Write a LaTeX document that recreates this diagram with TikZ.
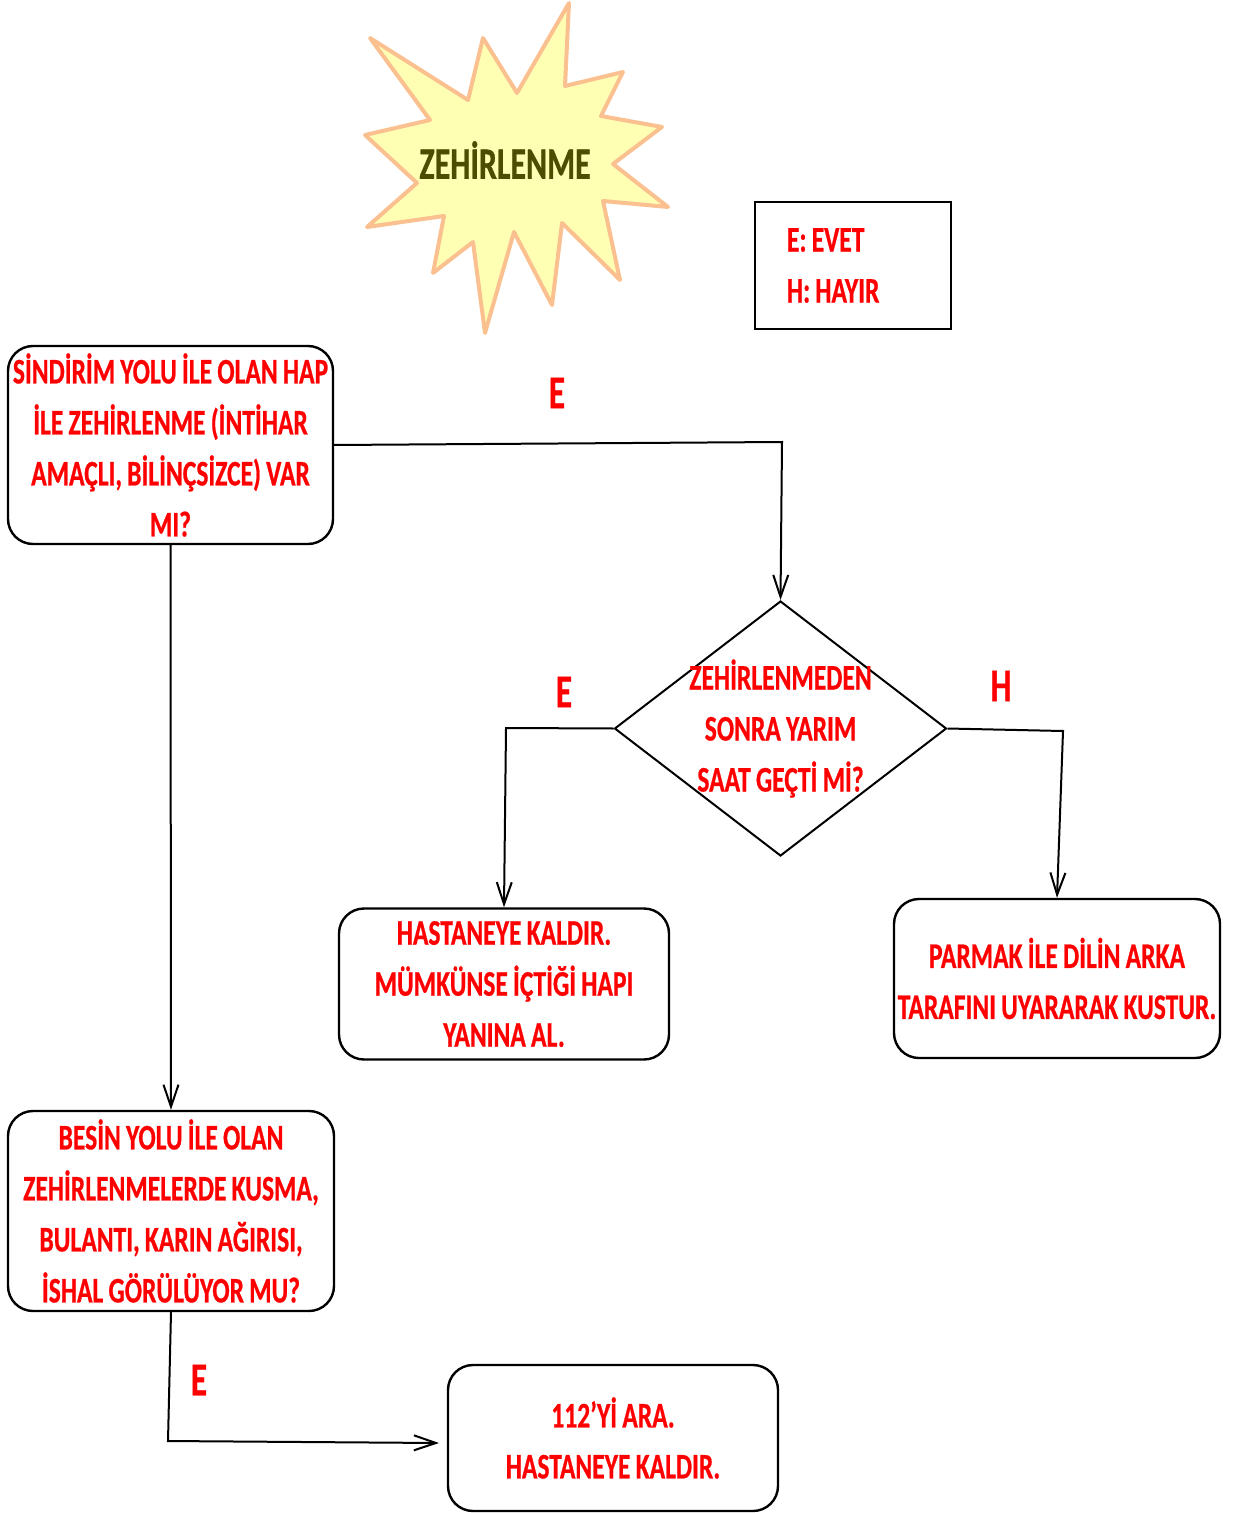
\documentclass[tikz,border=0pt]{standalone}
\usepackage{fontspec}
\setmainfont{Carlito}[FakeStretch=0.71, WordSpace=0.9, BoldFeatures={FakeBold=0.6}]
\usetikzlibrary{shapes.geometric,arrows.meta}
\definecolor{txtred}{RGB}{255,0,0}
\definecolor{burstfill}{RGB}{255,255,180}
\definecolor{burstline}{RGB}{250,192,144}
\definecolor{titlecol}{RGB}{77,77,0}
\frenchspacing
\begin{document}
\begin{tikzpicture}[x=0.5pt,y=-0.5pt,
  box/.style={draw, line width=1.2pt, rounded corners=12.5pt, align=center, text=txtred,
    font=\bfseries\fontsize{18}{25.5}\selectfont, inner sep=0pt},
  lbl/.style={text=txtred, font=\bfseries\fontsize{23.5}{28}\selectfont, inner sep=0pt},
  arr/.style={line width=1pt, -{Straight Barb[length=11pt,width=7.5pt]}}]
\useasboundingbox (0,0) rectangle (1236,1513);
% starburst
\draw[line width=2pt, line join=round, draw=burstline, fill=burstfill]
  (370,38) -- (468,100) -- (483,38) -- (517,93) -- (569,3) -- (565,86) -- (623,72)
  -- (601,116) -- (662,127) -- (613,164) -- (668,207) -- (603,201) -- (620,280)
  -- (562,223) -- (552,305) -- (514,232) -- (485,333) -- (473,242) -- (433,273)
  -- (444,216) -- (367,227) -- (417,183) -- (365,135) -- (430,120) -- cycle;
\node[text=titlecol, font=\bfseries\fontsize{22.5}{27}\selectfont, inner sep=0pt] (title) at (505,160) {ZEHİRLENME};
% legend
\node[draw, line width=1.2pt, minimum width=98pt, minimum height=63.5pt,
  inner xsep=16pt, align=left, text=txtred, font=\bfseries\fontsize{18}{25.5}\selectfont] (leg) at (853,265.5)
  {\makebox[66pt][l]{E: EVET}\\\makebox[66pt][l]{H: HAYIR}};
% boxes
\node[box, minimum width=162.5pt, minimum height=99pt] (b1) at (170.5,445)
  {SİNDİRİM YOLU İLE OLAN HAP\\İLE ZEHİRLENME (İNTİHAR\\AMAÇLI, BİLİNÇSİZCE) VAR\\MI?};
\node[diamond, draw, line width=1pt, inner xsep=-60pt, inner ysep=-45pt, minimum width=166pt, minimum height=127.5pt,
  align=center, text=txtred, font=\bfseries\fontsize{18}{25.5}\selectfont] (d) at (780.5,728.5)
  {ZEHİRLENMEDEN\\SONRA YARIM\\SAAT GEÇTİ Mİ?};
\node[box, minimum width=165pt, minimum height=75.5pt] (b3) at (504,984)
  {HASTANEYE KALDIR.\\MÜMKÜNSE İÇTİĞİ HAPI\\YANINA AL.};
\node[box, minimum width=163pt, minimum height=79.5pt] (b4) at (1057,978.5)
  {PARMAK İLE DİLİN ARKA\\TARAFINI UYARARAK KUSTUR.};
\node[box, minimum width=163pt, minimum height=100pt] (b5) at (171,1211)
  {BESİN YOLU İLE OLAN\\ZEHİRLENMELERDE KUSMA,\\BULANTI, KARIN AĞIRISI,\\İSHAL GÖRÜLÜYOR MU?};
\node[box, minimum width=165pt, minimum height=73pt] (b6) at (613,1438)
  {112’Yİ ARA.\\HASTANEYE KALDIR.};
% labels
\node[lbl] (e1) at (557,393) {E};
\node[lbl] (e2) at (564,692) {E};
\node[lbl] (h1) at (1001,686) {H};
\node[lbl] (e3) at (199,1380) {E};
% connectors
\coordinate (c1) at (782,442);
\coordinate (c2) at (506,728);
\coordinate (c3) at (1063,731);
\coordinate (c4) at (168,1441);
\coordinate (c5) at (439,1443);
\draw[arr] (b1.east) -- (c1) -- (d.north);
\draw[arr] (d.west) -- (c2) -- (b3.north);
\draw[arr] (d.east) -- (c3) -- (b4.north);
\draw[arr] (b1.south) -- (b5.north);
\draw[arr] (b5.south) -- (c4) -- (c5);
\end{tikzpicture}
\end{document}
